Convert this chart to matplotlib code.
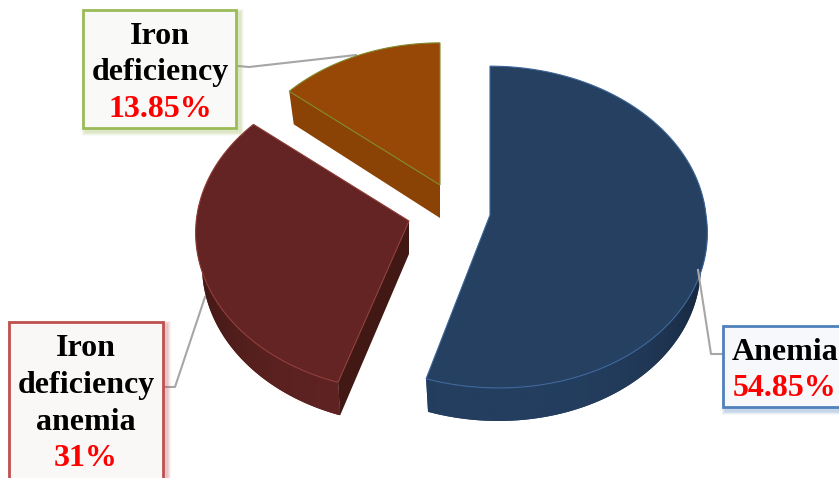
# encoding: utf-8
import numpy as np
import matplotlib
matplotlib.use('Agg')
import matplotlib.pyplot as plt
from matplotlib.colors import LinearSegmentedColormap
from matplotlib.patches import Polygon, Rectangle

labels = ['Anemia', 'Iron\ndeficiency\nanemia', 'Iron\ndeficiency']
percents = [54.85, 31, 13.85]
percent_labels = ['54.85%', '31%', '13.85%']

# where each exploded slice has its tip, in pixels
tips = [(490, 215), (409, 221), (440, 185)]
scales = [1.0, 0.985, 0.955]
shears = [0.05, 0.0, 0.0]
top_colors = ['#254061', '#632423', '#974806']
wall_colors = ['#243e5f', '#5e2322', '#8a4205']
dark_colors = ['#16263c', '#3f1714', '#8a4205']
side_colors = ['#16263c', '#421814', '#8a4205']
edge_colors = ['#3d6699', '#8f3d38', '#7f8a2c']

RX, RY, PERSP, DEPTH = 216, 160, 0.075, 33
BOTTOM_SHRINK = 0.97


def rim(tip, theta, scale, shear):
    # theta is clockwise from 12 o'clock, far side drawn a bit smaller
    u, v = np.sin(theta), np.cos(theta)
    d = 1 + PERSP * v
    dy = RY * scale * v / d
    dx = RX * scale * u / d + shear * np.maximum(-dy, 0)
    return dx, dy


def draw_slice(ax, i, a0, a1):
    tip = tips[i]
    theta = np.linspace(a0, a1, 200)
    dx, dy = rim(tip, theta, scales[i], shears[i])
    x, y = tip[0] + dx, tip[1] - dy
    # the underside sits lower and looks a little narrower
    bx, by = tip[0] + dx * BOTTOM_SHRINK, tip[1] - dy + DEPTH

    # radial side that faces the viewer
    ax.add_patch(Polygon([tip, (x[0], y[0]), (bx[0], by[0]), (tip[0], tip[1] + DEPTH)],
                         fc=side_colors[i], ec='none', zorder=2))

    # outer wall, shaded darker towards the left and right ends
    keep = np.cos(theta) < 0.1
    if keep.any():
        poly = list(zip(x[keep], y[keep])) + list(zip(bx[keep][::-1], by[keep][::-1]))
        patch = Polygon(poly, fc=wall_colors[i], ec='none', zorder=2)
        ax.add_patch(patch)
        x0, x1 = min(p[0] for p in poly), max(p[0] for p in poly)
        y0, y1 = min(p[1] for p in poly), max(p[1] for p in poly)
        cols = np.linspace(x0, x1, 300)
        shade = np.clip(np.abs(cols - tip[0]) / RX, 0, 1)[None, :] ** 4
        cmap = LinearSegmentedColormap.from_list('wall', [wall_colors[i], dark_colors[i]])
        im = ax.imshow(shade, extent=(x0, x1, y1, y0), cmap=cmap, vmin=0, vmax=1,
                       aspect='auto', zorder=2.5)
        im.set_clip_path(patch)

    ax.add_patch(Polygon(list(zip(x, y)) + [tip], fc=top_colors[i], ec=edge_colors[i],
                         lw=0.8, zorder=3))


def draw_box(ax, x0, y0, x1, y1, edge, fill):
    # soft drop shadow
    for k in range(7):
        grow = 7 - k
        ax.add_patch(Rectangle((x0 + 2 - grow / 2, y0 + 2 - grow / 2), x1 - x0 + grow + 2, y1 - y0 + grow + 2,
                               fc=edge, ec='none', alpha=0.05, zorder=5))
    ax.add_patch(Rectangle((x0, y0), x1 - x0, y1 - y0, fc=fill, ec=edge, lw=2.0, zorder=6))


fig = plt.figure(figsize=(8.39, 4.78), dpi=100)
ax = fig.add_axes([0, 0, 1, 1])

# slice angles come from the percentages
total = float(sum(percents))
edges = np.concatenate([[0], np.cumsum(percents)]) / total * 2 * np.pi

# back slices first
for i in [2, 1, 0]:
    draw_slice(ax, i, edges[i], edges[i + 1])

ax.set_xlim(0, 839)
ax.set_ylim(478, 0)
ax.axis('off')

# leader lines
leader = dict(color='#a6a6a6', lw=1.5, zorder=1)
ax.plot([238, 249, 356], [66, 67, 55], **leader)
ax.plot([164, 175, 205], [387, 387, 297], **leader)
ax.plot([698, 711, 723], [270, 354, 354], **dict(leader, zorder=4))

draw_box(ax, 83, 10, 236, 128, '#9bbb59', '#f9f9f7')
draw_box(ax, 9, 322, 163, 484, '#c0504d', '#f9f8f7')
draw_box(ax, 723, 326, 850, 407, '#4f81bd', '#f6f8fb')

text_style = dict(family=['Liberation Serif', 'DejaVu Serif'], fontsize=23, fontweight='bold',
                  ha='center', va='center', zorder=7)

lines = labels[2].split('\n')
for y, s in zip([36, 72], lines):
    ax.text(160, y, s, color='black', **text_style)
ax.text(160, 109, percent_labels[2], color='#ff0000', **text_style)

lines = labels[1].split('\n')
for y, s in zip([348, 385, 422], lines):
    ax.text(86, y, s, color='black', **text_style)
ax.text(86, 458, percent_labels[1], color='#ff0000', **text_style)

ax.text(785, 352, labels[0], color='black', **text_style)
ax.text(785, 389, percent_labels[0], color='#ff0000', **text_style)

fig.savefig('out.png', dpi=100)
